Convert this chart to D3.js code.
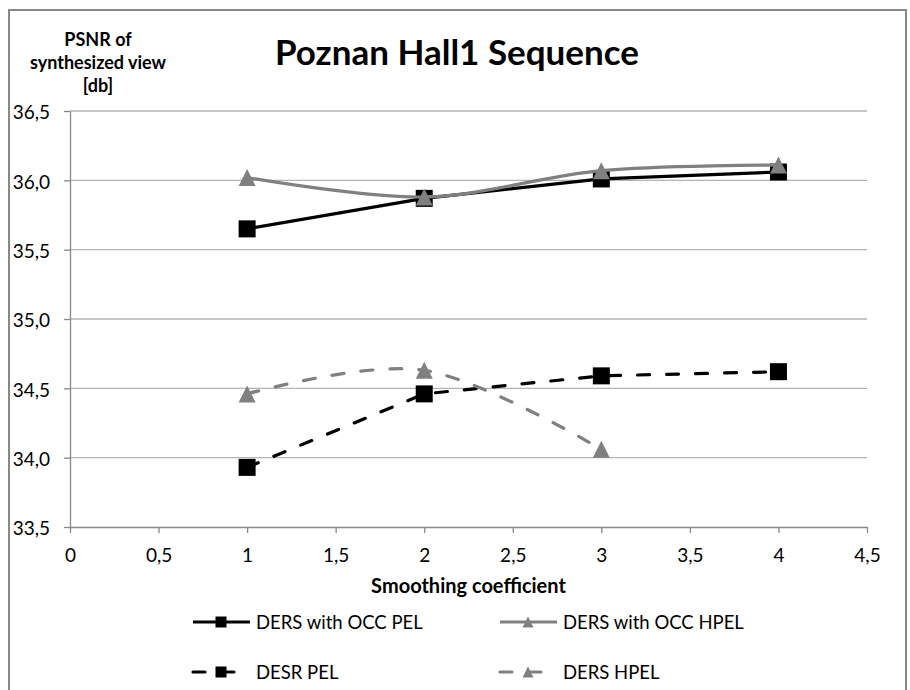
<!DOCTYPE html>
<html>
<head>
<meta charset="utf-8">
<script src="https://cdn.jsdelivr.net/npm/d3@7"></script>
<style>
  body { margin: 0; background: #fff; }
  text { font-family: Lato, "Open Sans", sans-serif; fill: #000; }
</style>
</head>
<body>
<div id="chart"></div>
<script>
var w = 910;
var h = 690;

// data
var xValues = [1, 2, 3, 4];
var occPel = [35.65, 35.87, 36.01, 36.06];   // DERS with OCC PEL
var occHpel = [36.02, 35.88, 36.07, 36.11];  // DERS with OCC HPEL
var desrPel = [33.93, 34.46, 34.59, 34.62];  // DESR PEL
var dersHpel = [34.46, 34.63, 34.06];        // DERS HPEL (no value at 4)
var xTicks = [0, 0.5, 1, 1.5, 2, 2.5, 3, 3.5, 4, 4.5];
var yTicks = [33.5, 34, 34.5, 35, 35.5, 36, 36.5];
var seriesNames = ["DERS with OCC PEL", "DERS with OCC HPEL", "DESR PEL", "DERS HPEL"];

var gray = "#808080";
var dash = "12,17";

var series = [
  {name: seriesNames[0], values: occPel, color: "#000", dash: null, marker: "square", curve: d3.curveLinear},
  {name: seriesNames[1], values: occHpel, color: gray, dash: null, marker: "triangle", curve: d3.curveCatmullRom.alpha(0)},
  {name: seriesNames[2], values: desrPel, color: "#000", dash: dash, marker: "square", curve: d3.curveLinear},
  {name: seriesNames[3], values: dersHpel, color: gray, dash: dash, marker: "triangle", curve: d3.curveCatmullRom.alpha(0)}
];

var svg = d3.select("#chart")
    .append("svg")
    .attr("width", w)
    .attr("height", h);

// outer chart frame
svg.append("rect")
    .attr("x", 9).attr("y", 10)
    .attr("width", 897).attr("height", 700)
    .attr("fill", "#fff")
    .attr("stroke", "#888")
    .attr("stroke-width", 2);

var margin = {top: 111, left: 70, right: 43, bottom: 163},
    width = w - margin.left - margin.right,
    height = h - margin.top - margin.bottom,
    g = svg.append("g").attr("transform", "translate(" + margin.left + "," + margin.top + ")");

var x = d3.scaleLinear().domain([0, 4.5]).range([0, width]);
var y = d3.scaleLinear().domain([33.5, 36.5]).range([height, 0]);

var fmt = function(d) { return String(d).replace(".", ","); };

// horizontal gridlines
g.append("g")
    .selectAll("line")
    .data(yTicks.slice(1))
    .join("line")
    .attr("x1", 0).attr("x2", width)
    .attr("y1", function(d) { return y(d); })
    .attr("y2", function(d) { return y(d); })
    .attr("stroke", "#b4b4b4")
    .attr("stroke-width", 1.3);

var xAxis = g.append("g")
    .attr("transform", "translate(0," + height + ")")
    .call(d3.axisBottom(x).tickValues(xTicks).tickFormat(fmt).tickSize(6).tickSizeOuter(0));
xAxis.selectAll("text").attr("y", 35).attr("dy", 0).style("font-size", "19px");

var yAxis = g.append("g")
    .call(d3.axisLeft(y).tickValues(yTicks).tickFormat(function(d) { return fmt(d3.format(".1f")(d)); }).tickSize(6).tickSizeOuter(0));
yAxis.selectAll("text").attr("x", -20).attr("dy", "0.42em").style("font-size", "19px");

[xAxis, yAxis].forEach(function(a) {
  a.select(".domain").attr("stroke", "#888").attr("stroke-width", 1.3);
  a.selectAll(".tick line").attr("stroke", "#888").attr("stroke-width", 1.3);
});

function drawMarker(sel, type, size, color) {
  if (type === "square") {
    sel.append("rect")
        .attr("x", -size / 2).attr("y", -size / 2)
        .attr("width", size).attr("height", size)
        .attr("fill", color);
  } else {
    sel.append("path")
        .attr("d", "M0," + (-size / 2) + "L" + (size / 2) + "," + (size / 2) + "L" + (-size / 2) + "," + (size / 2) + "Z")
        .attr("fill", color);
  }
}

series.forEach(function(s) {
  var pts = s.values.map(function(v, i) { return {x: xValues[i], y: v}; });
  var line = d3.line()
      .curve(s.curve)
      .x(function(d) { return x(d.x); })
      .y(function(d) { return y(d.y); });

  g.append("path")
      .datum(pts)
      .attr("fill", "none")
      .attr("stroke", s.color)
      .attr("stroke-width", 3.2)
      .attr("stroke-linecap", s.dash ? "round" : "butt")
      .attr("stroke-dasharray", s.dash)
      .attr("d", line);

  g.append("g").selectAll("g")
      .data(pts)
      .join("g")
      .attr("transform", function(d) { return "translate(" + x(d.x) + "," + y(d.y) + ")"; })
      .each(function() { drawMarker(d3.select(this), s.marker, 17, s.color); });
});

// titles
svg.append("text")
    .attr("x", 457).attr("y", 65)
    .attr("text-anchor", "middle")
    .style("font-size", "35px").style("font-weight", "bold")
    .text("Poznan Hall1 Sequence");

svg.append("text")
    .attr("text-anchor", "middle")
    .style("font-size", "18px").style("font-weight", "bold")
    .selectAll("tspan")
    .data(["PSNR of", "synthesized view", "[db]"])
    .join("tspan")
    .attr("x", 98)
    .attr("y", function(d, i) { return 46 + i * 23; })
    .text(function(d) { return d; });

svg.append("text")
    .attr("x", margin.left + width / 2).attr("y", 593)
    .attr("text-anchor", "middle")
    .style("font-size", "20px").style("font-weight", "bold")
    .text("Smoothing coefficient");

// legend, two columns by two rows
var legendPos = [[193, 622], [500, 622], [193, 672], [500, 672]];
var legend = svg.append("g").selectAll("g")
    .data(series)
    .join("g")
    .attr("transform", function(d, i) { return "translate(" + legendPos[i][0] + "," + legendPos[i][1] + ")"; });

legend.append("line")
    .attr("x1", 0)
    .attr("x2", function(d) { return d.dash ? 44 : 57; })
    .attr("stroke", function(d) { return d.color; })
    .attr("stroke-width", 3.2)
    .attr("stroke-linecap", function(d) { return d.dash ? "round" : "butt"; })
    .attr("stroke-dasharray", function(d) { return d.dash; });

legend.each(function(d) {
  var m = d3.select(this).append("g").attr("transform", "translate(28,0)");
  drawMarker(m, d.marker, 11, d.color);
});

legend.append("text")
    .attr("x", 63).attr("dy", "0.36em")
    .style("font-size", "18.5px")
    .text(function(d) { return d.name; });
</script>
</body>
</html>
